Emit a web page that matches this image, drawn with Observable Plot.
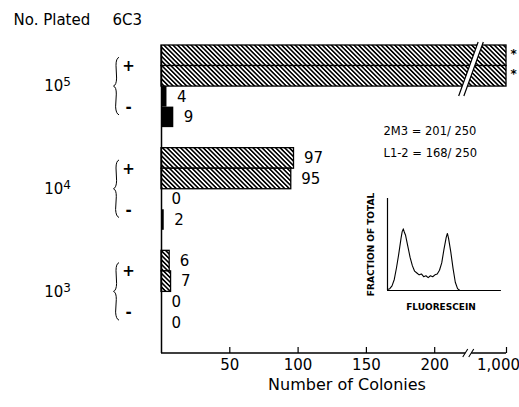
<!DOCTYPE html>
<html>
<head>
<meta charset="utf-8">
<script src="https://cdn.jsdelivr.net/npm/d3@7"></script>
<script src="https://cdn.jsdelivr.net/npm/@observablehq/plot@0.6"></script>
<style>
  body { margin: 0; background: #fff; }
  #wrap { position: relative; width: 519px; height: 407px; }
  #inset { position: absolute; left: 355px; top: 120px; }
</style>
</head>
<body>
<div id="wrap"><div id="main"></div><div id="inset"></div></div>
<script>
// ---- data ----
const plated = ["10⁵", "10⁴", "10³"];
const treatment = ["+", "+", "-", "-"];
const colonies1e5 = [1000, 1000, 4, 9];
const colonies1e4 = [97, 95, 0, 2];
const colonies1e3 = [6, 7, 0, 0];
const offScale = 1000;                 // bars marked with * (off scale)
const xTicks = [50, 100, 150, 200];
const xTickFar = [1000];
const xBreak = [222, 985];             // axis break
const xEnd = 1000;
const headers = ["No. Plated", "6C3"];
const xTitle = ["Number of Colonies"];
const cloneLines = ["2M3 = 201/ 250", "L1-2 = 168/ 250"];
const fluorescein = [0, 2, 4, 6, 8, 10, 12, 13, 14, 15, 16, 18, 20, 22, 24, 26, 28, 30, 32, 34, 36, 38, 40, 42, 44, 46, 48, 50, 52, 53, 54, 56, 58, 60, 62, 64, 100];
const fractionOfTotal = [0.01, 0.02, 0.05, 0.12, 0.25, 0.40, 0.57, 0.64, 0.67, 0.63, 0.60, 0.48, 0.36, 0.27, 0.21, 0.19, 0.17, 0.18, 0.15, 0.16, 0.14, 0.16, 0.15, 0.17, 0.18, 0.22, 0.30, 0.45, 0.58, 0.62, 0.57, 0.42, 0.24, 0.09, 0.02, 0, 0];

// ---- derived tables ----
const series = [colonies1e5, colonies1e4, colonies1e3];
const perGroup = treatment.length + 1;
const rows = series.flatMap((vals, g) => vals.map((v, r) => ({
  group: plated[g], sign: treatment[r], value: v, slot: g * perGroup + r,
  label: v >= offScale ? "*" : String(v)
})));
const groupRows = plated.map((p, g) => ({label: p, slot: g * perGroup + treatment.length / 2, first: g * perGroup, last: g * perGroup + treatment.length}));
const signRows = plated.flatMap((p, g) => ["+", "-"].map((s, k) => ({label: s, slot: g * perGroup + 1 + 2 * k})));
const hist = fluorescein.map((c, i) => ({c, f: fractionOfTotal[i]}));

const W = 519, H = 407, mL = 161, mR = 13, mT = 45, mB = 54;
const k = 1.366; // px per colony on the linear part

const hatchDefs = () => {
  const defs = d3.create("svg:defs");
  const p = defs.append("pattern").attr("id", "hatch").attr("patternUnits", "userSpaceOnUse")
    .attr("width", 3.2).attr("height", 3.2).attr("patternTransform", "rotate(-45)");
  p.append("rect").attr("width", 3.2).attr("height", 3.2).attr("fill", "white");
  p.append("rect").attr("width", 1.6).attr("height", 3.2).attr("fill", "black");
  return defs.node();
};

const breakMark = (index, scales, values, dims) => {
  const g = d3.create("svg:g").attr("fill", "none").attr("stroke", "black").attr("stroke-width", 1.2);
  const xc = (scales.x(xBreak[0]) + scales.x(xBreak[1])) / 2;
  const over = rows.filter(d => d.value >= offScale);
  const s0 = d3.min(over, d => d.slot), s1 = d3.max(over, d => d.slot) + 1;
  const yTop = scales.y(s0) - 3, yBot = scales.y(s1) + 10, ym = (scales.y(s0) + scales.y(s1)) / 2;
  const X = (y, off) => xc + 4 - 0.36 * (y - ym) + off;
  g.append("path").attr("fill", "white").attr("stroke", "none")
    .attr("d", `M${X(yTop,-2.6)},${yTop}L${X(yTop,2.6)},${yTop}L${X(yBot,2.6)},${yBot}L${X(yBot,-2.6)},${yBot}Z`);
  g.append("path").attr("d", `M${X(yTop,-2.6)},${yTop}L${X(yBot,-2.6)},${yBot}M${X(yTop,2.6)},${yTop}L${X(yBot,2.6)},${yBot}`);
  const ya = dims.height - dims.marginBottom;
  g.append("path").attr("stroke-width", 1.4)
    .attr("d", `M${scales.x(0)},${ya}L${xc - 3},${ya}M${xc + 3},${ya}L${scales.x(xEnd)},${ya}`);
  g.append("path").attr("stroke-width", 1.1)
    .attr("d", `M${xc - 5.5},${ya + 4}L${xc - 0.5},${ya - 4}M${xc + 0.5},${ya + 4}L${xc + 5.5},${ya - 4}`);
  return g.node();
};

// thin curly braces grouping the +/- rows of each plating density
const braceMark = (index, scales, values, dims) => {
  const g = d3.create("svg:g").attr("fill", "none").attr("stroke", "black").attr("stroke-width", 1);
  const x0 = dims.marginLeft - 45;
  for (const d of groupRows) {
    const t = scales.y(d.first + 0.6), b = scales.y(d.last - 0.6), m = scales.y(d.slot);
    g.append("path").attr("d",
      `M${x0 + 3},${t}Q${x0},${t + 1} ${x0},${t + 8}` +
      `L${x0 + 0.6},${m - 8}Q${x0 + 0.4},${m - 1} ${x0 - 2.5},${m}` +
      `Q${x0 + 0.4},${m + 1} ${x0 + 0.3},${m + 8}` +
      `L${x0 - 0.4},${b - 8}Q${x0},${b - 1} ${x0 + 3},${b}`);
  }
  return g.node();
};

const main = Plot.plot({
  width: W, height: H,
  marginTop: mT, marginBottom: mB, marginLeft: mL, marginRight: mR,
  x: {type: "linear", domain: [0, xBreak[0], xBreak[1], xEnd], range: [mL, mL + xBreak[0] * k, mL + xBreak[0] * k + 8, W - mR]},
  y: {type: "linear", domain: [0, perGroup * plated.length], range: [mT, H - mB], axis: null},
  style: {fontFamily: "DejaVu Sans", fontSize: "15px", color: "black", background: "white"},
  marks: [
    hatchDefs,
    Plot.rect(rows.filter(d => d.sign === "+" && d.value > 0), {x1: 0, x2: "value", y1: "slot", y2: d => d.slot + 1, fill: "url(#hatch)", stroke: "black", strokeWidth: 1.3}),
    Plot.rect(rows.filter(d => d.sign === "-" && d.value > 0), {x1: 0, x2: "value", y1: "slot", y2: d => d.slot + 1, fill: "black"}),
    breakMark,
    braceMark,
    Plot.ruleX([0], {strokeWidth: 1.5}),
    Plot.axisX([...xTicks, ...xTickFar], {tickSize: -6, fill: "none", label: null, strokeWidth: 1.2}),
    Plot.axisX(xTicks, {tickSize: 0, tickPadding: 6, stroke: "none", label: null, fontSize: 15}),
    Plot.axisX(xTickFar, {tickSize: 0, tickPadding: 6, stroke: "none", label: null, fontSize: 15, tickFormat: d3.format(","), dx: -8}),
    Plot.text(rows.filter(d => d.value < offScale), {x: "value", y: d => d.slot + 0.5, text: "label", textAnchor: "start", dx: 10, fontSize: 15}),
    Plot.text(rows.filter(d => d.value >= offScale), {x: "value", y: d => d.slot + 0.5, text: "label", textAnchor: "start", dx: 4, dy: -2, fontSize: 12, fontWeight: "bold"}),
    Plot.text(groupRows, {y: "slot", text: "label", frameAnchor: "left", dx: -104, textAnchor: "middle", fontSize: 15}),
    Plot.text(signRows, {y: "slot", text: "label", frameAnchor: "left", dx: -33, textAnchor: "middle", fontSize: 15, fontWeight: "bold"}),
    Plot.text([headers[0]], {frameAnchor: "top-left", dx: -148, dy: -25, textAnchor: "start", lineAnchor: "middle", fontSize: 15}),
    Plot.text([headers[1]], {frameAnchor: "top-left", dx: -49, dy: -25, textAnchor: "start", lineAnchor: "middle", fontSize: 15}),
    Plot.text(xTitle, {frameAnchor: "bottom", dx: 13, dy: 36, fontSize: 16})
  ]
});
// superscript exponent as a raised tspan
const supMap = {"⁵": "5", "⁴": "4", "³": "3"};
d3.select(main).selectAll("text").filter(function() { return /^10[⁵⁴³]$/.test(this.textContent); })
  .each(function() {
    const e = supMap[this.textContent[2]];
    const sel = d3.select(this);
    sel.text("10");
    sel.append("tspan").attr("dy", "-0.42em").attr("font-size", "0.8em").text(e);
  });
document.getElementById("main").appendChild(main);

const inset = Plot.plot({
  width: 155, height: 200,
  marginLeft: 32, marginRight: 10, marginTop: 78, marginBottom: 30,
  x: {domain: [0, 100], axis: null},
  y: {domain: [0, 1], axis: null},
  style: {fontFamily: "DejaVu Sans", color: "black", background: "transparent"},
  marks: [
    Plot.ruleX([0], {strokeWidth: 1.2}),
    Plot.ruleY([0], {strokeWidth: 1.2}),
    Plot.line(hist, {x: "c", y: "f", stroke: "black", strokeWidth: 1.1}),
    Plot.text(["FRACTION OF TOTAL"], {frameAnchor: "left", dx: -16, rotate: -90, textAnchor: "middle", fontSize: 9, fontWeight: "bold"}),
    Plot.text(["FLUORESCEIN"], {frameAnchor: "bottom", dy: 19, dx: -3, fontSize: 9, fontWeight: "bold"}),
    Plot.text([cloneLines.join("\n")], {frameAnchor: "top-left", dx: -4, dy: -79, textAnchor: "start", lineAnchor: "top", lineHeight: 1.9, fontSize: 11.5})
  ]
});
document.getElementById("inset").appendChild(inset);
</script>
</body>
</html>
